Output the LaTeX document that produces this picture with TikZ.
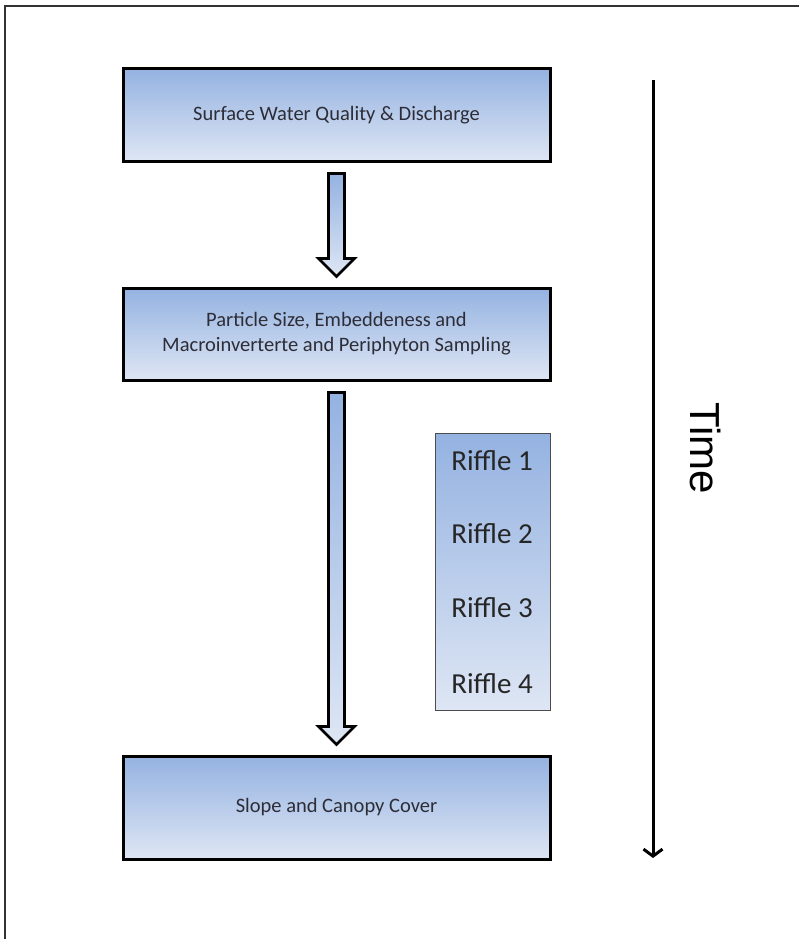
\documentclass[tikz,border=0pt]{standalone}
\usepackage{fontspec}
\setmainfont{Carlito}
\newfontfamily\timefont{Liberation Sans}
\usetikzlibrary{arrows.meta, positioning, calc}
\definecolor{stagetop}{RGB}{148,178,225}
\definecolor{stagebottom}{RGB}{222,230,244}
\definecolor{stagetext}{RGB}{45,45,55}
\tikzset{
  stagebox/.style={
    draw, line width=3pt, top color=stagetop, bottom color=stagebottom,
    minimum width=427pt, minimum height=92pt, align=center,
    font=\fontsize{20.5}{25}\selectfont, text=stagetext
  },
  rifflebox/.style={
    draw=black!70, line width=0.8pt, top color=stagetop,
    bottom color=stagebottom, minimum width=115pt, minimum height=277pt
  },
  rifflelabel/.style={font=\fontsize{29}{32}\selectfont, text=black!85},
  flowarrow/.style={
    draw, line width=2.6pt, line join=miter,
    top color=stagetop, bottom color=stagebottom
  },
  timearrow/.style={
    -{Straight Barb[length=7pt, width=19pt]}, line width=3pt
  },
}
% hollow block arrow from the bottom of one stage to the top of the next
\newcommand{\flowarrow}[2]{%
  \path[flowarrow] ($(#1.south)+(-8,11)$) -- ($(#2.north)+(-8,-28)$)
    -- ++(-10,0) -- ($(#2.north)+(0,-10)$) -- ($(#2.north)+(18,-28)$)
    -- ++(-10,0) -- ($(#1.south)+(8,11)$) -- cycle;
}

\begin{document}
\begin{tikzpicture}[x=1pt, y=-1pt]
  \useasboundingbox (0,0) rectangle (799,939);

  % frame
  \draw[line width=1.2pt, black!80] (5,939) -- (5,6) -- (799,6);

  % Stages
  \node[stagebox] (water) at (336.5,115) {Surface Water Quality \& Discharge};
  \node[stagebox] (particle) at (336.5,334) {%
    Particle Size, Embeddeness and\\
    Macroinverterte and Periphyton Sampling};
  \node[stagebox, minimum height=103pt] (slope) at (336.5,807.5)
    {Slope and Canopy Cover};

  % Arrows between stages
  \flowarrow{water}{particle}
  \flowarrow{particle}{slope}

  % Riffles
  \node[rifflebox] (riffles) at (492.5,571.5) {};
  \foreach \i/\y in {1/461, 2/534, 3/608, 4/684}
    \node[rifflelabel] (riffle\i) at (492,\y) {Riffle \i};

  % Time axis
  \coordinate (tstart) at (653,80);
  \coordinate (tend) at (653,858);
  \draw[timearrow] (tstart) -- (tend);
  \node[font=\timefont\fontsize{42}{42}\selectfont, rotate=-90]
    (time) at (706,448) {Time};
\end{tikzpicture}
\end{document}
